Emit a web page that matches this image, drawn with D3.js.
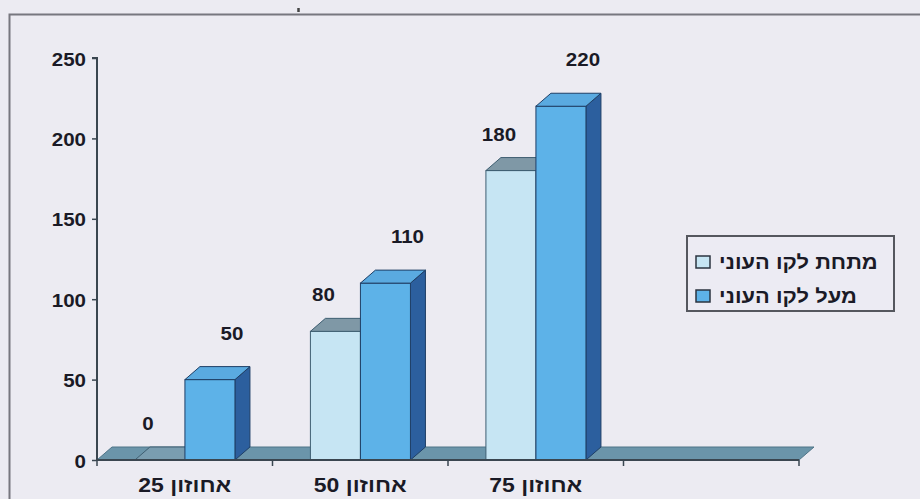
<!DOCTYPE html>
<html>
<head>
<meta charset="utf-8">
<script src="https://cdn.jsdelivr.net/npm/d3@7"></script>
<style>
  html, body { margin: 0; padding: 0; background: #ecebf2; }
  svg { display: block; }
  text { font-family: "Liberation Sans", Arial, sans-serif; font-weight: bold; fill: #1a1a26; }
</style>
</head>
<body>
<svg id="chart" width="920" height="499"></svg>
<script>
// Percentile groups (the fourth slot on the axis is left empty)
const categories = ["אחוזון 25", "אחוזון 50", "אחוזון 75", ""];
const seriesNames = ["מתחת לקו העוני", "מעל לקו העוני"];
const belowPoverty = [0, 80, 180];
const abovePoverty = [50, 110, 220];
const yTicks = [0, 50, 100, 150, 200, 250];

const seriesValues = [belowPoverty, abovePoverty];
const palette = [
  { front: "#c6e5f3", top: "#7f98a6", side: "#5d7f92", stroke: "#3f5f72" },
  { front: "#5db2e8", top: "#5aaae0", side: "#2c5f9e", stroke: "#1f3f66" }
];

// widen a text element horizontally around its anchor point
function stretch(sel, sx) {
  sel.each(function () {
    const t = d3.select(this);
    const x = +t.attr("x") || 0, yy = +t.attr("y") || 0;
    t.attr("x", 0).attr("y", 0)
      .attr("transform", `translate(${x},${yy}) scale(${sx},1)`);
  });
}

const svg = d3.select("#chart");
const W = 920, H = 499;

// frame
svg.append("rect").attr("width", W).attr("height", H).attr("fill", "#ecebf2");
svg.append("path")
  .attr("d", "M9.5,499 V14.5 H920")
  .attr("fill", "none").attr("stroke", "#77777f").attr("stroke-width", 2);
svg.append("line").attr("x1", 298.5).attr("x2", 298.5).attr("y1", 8).attr("y2", 12)
  .attr("stroke", "#444").attr("stroke-width", 2.5);

const plot = { left: 97, right: 799, top: 58, bottom: 460 };
const depth = { dx: 15, dy: -13 };

const y = d3.scaleLinear().domain([0, 250]).range([plot.bottom, plot.top]);
const x0 = d3.scaleBand().domain(categories).range([plot.left, plot.right]);
const bw = x0.bandwidth();
const x1 = d3.scaleBand().domain(seriesNames).range([bw * 0.216, bw * 0.786]);

// floor of the 3D plot
const floorPts = [
  [plot.left, plot.bottom], [plot.right, plot.bottom],
  [plot.right + depth.dx, plot.bottom + depth.dy], [plot.left + depth.dx, plot.bottom + depth.dy]
];
svg.append("polygon")
  .attr("points", floorPts.map(p => p.join(",")).join(" "))
  .attr("fill", "#6b95aa").attr("stroke", "#4f7488").attr("stroke-width", 1);

// bars: front face, top and right side
const bars = [];
categories.forEach((c, i) => {
  seriesNames.forEach((s, j) => {
    const v = seriesValues[j][i];
    if (v === undefined || v === null) return;
    bars.push({ cat: c, series: s, j, v });
  });
});

const g = svg.append("g");
bars.forEach(b => {
  const xl = x0(b.cat) + x1(b.series);
  const xr = xl + x1.bandwidth();
  const yt = y(b.v), yb = y(0);
  const col = palette[b.j];
  const bar = g.append("g");
  if (b.v > 0) {
    bar.append("polygon")
      .attr("points", [[xr, yb], [xr + depth.dx, yb + depth.dy], [xr + depth.dx, yt + depth.dy], [xr, yt]].map(p => p.join(",")).join(" "))
      .attr("fill", col.side).attr("stroke", col.stroke).attr("stroke-width", 1);
    bar.append("rect")
      .attr("x", xl).attr("y", yt).attr("width", xr - xl).attr("height", yb - yt)
      .attr("fill", col.front).attr("stroke", col.stroke).attr("stroke-width", 1);
  }
  bar.append("polygon")
    .attr("points", [[xl, yt], [xr, yt], [xr + depth.dx, yt + depth.dy], [xl + depth.dx, yt + depth.dy]].map(p => p.join(",")).join(" "))
    .attr("fill", b.v > 0 ? col.top : "#7a9db0").attr("stroke", col.stroke).attr("stroke-width", 1);
});

// value labels
const labelOffset = [{ dx: -12, dy: -30 }, { dx: 22, dy: -40 }];
const vLabels = svg.append("g").selectAll("text").data(bars).join("text")
  .attr("x", b => x0(b.cat) + x1(b.series) + x1.bandwidth() / 2 + labelOffset[b.j].dx)
  .attr("y", b => y(b.v) + labelOffset[b.j].dy)
  .attr("text-anchor", "middle").attr("font-size", 19)
  .text(b => b.v);
stretch(vLabels, 1.08);

// y axis
const yAxis = d3.axisLeft(y).tickValues(yTicks).tickSize(5).tickPadding(6);
const ya = svg.append("g").attr("transform", `translate(${plot.left},0)`).call(yAxis);
ya.select(".domain").attr("stroke", "#3a4650").attr("stroke-width", 2).attr("d", `M-5,${plot.top}H0V${plot.bottom}`);
ya.selectAll(".tick line").attr("stroke", "#3a4650").attr("stroke-width", 1.5);
const yt = ya.selectAll(".tick text").attr("font-size", 19).attr("font-family", null).attr("fill", "#1a1a26")
  .attr("dy", null).attr("y", 7);
stretch(yt, 1.08);

// x axis
const xAxis = d3.axisBottom(x0).tickSize(0).tickPadding(0);
const xa = svg.append("g").attr("transform", `translate(0,${plot.bottom})`).call(xAxis);
xa.select(".domain").attr("stroke", "#3a4650").attr("stroke-width", 2).attr("d", `M${plot.left},0H${plot.right}`);
const xt = xa.selectAll(".tick text").attr("font-size", 20).attr("font-family", null).attr("fill", "#1a1a26")
  .attr("direction", "rtl").attr("text-anchor", "middle").attr("dy", null).attr("y", 32);
stretch(xt, 1.15);
// category boundaries
const bounds = categories.map(c => x0(c)).concat([plot.right]);
svg.append("g").selectAll("line").data(bounds).join("line")
  .attr("x1", d => d).attr("x2", d => d)
  .attr("y1", plot.bottom).attr("y2", plot.bottom + 6)
  .attr("stroke", "#3a4650").attr("stroke-width", 1.5);

// legend
const lg = svg.append("g").attr("transform", "translate(687,236)");
lg.append("rect").attr("width", 207).attr("height", 75)
  .attr("fill", "#ecebf3").attr("stroke", "#55575e").attr("stroke-width", 2);
seriesNames.forEach((s, j) => {
  const row = lg.append("g").attr("transform", `translate(0,${20 + j * 34})`);
  row.append("rect").attr("x", 9).attr("y", 0).attr("width", 14).attr("height", 12)
    .attr("fill", palette[j].front).attr("stroke", "#2b3440").attr("stroke-width", 1.5);
  const t = row.append("text").attr("x", 32).attr("y", 13).attr("font-size", 19)
    .attr("text-anchor", "start").text(s);
  stretch(t, 1.15);
});
</script>
</body>
</html>
